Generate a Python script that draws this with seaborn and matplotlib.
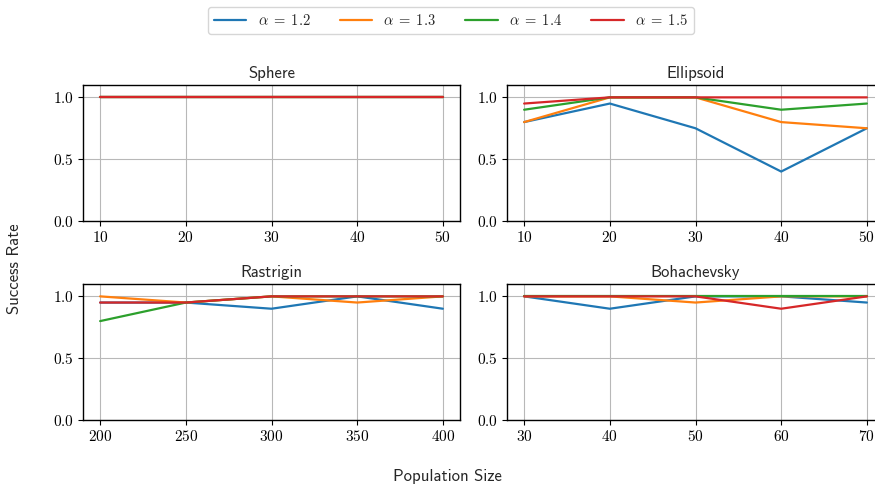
import numpy as np
import pandas as pd
import matplotlib
matplotlib.use("Agg")
import matplotlib.pyplot as plt
import seaborn as sns

# ---- data ----
alphas = ["1.2", "1.3", "1.4", "1.5"]
titles = ["Sphere", "Ellipsoid", "Rastrigin", "Bohachevsky"]

sphere_x = [10, 20, 30, 40, 50]
sphere_a12 = [1.0, 1.0, 1.0, 1.0, 1.0]
sphere_a13 = [1.0, 1.0, 1.0, 1.0, 1.0]
sphere_a14 = [1.0, 1.0, 1.0, 1.0, 1.0]
sphere_a15 = [1.0, 1.0, 1.0, 1.0, 1.0]

ellipsoid_x = [10, 20, 30, 40, 50]
ellipsoid_a12 = [0.80, 0.95, 0.75, 0.40, 0.75]
ellipsoid_a13 = [0.80, 1.00, 1.00, 0.80, 0.75]
ellipsoid_a14 = [0.90, 1.00, 1.00, 0.90, 0.95]
ellipsoid_a15 = [0.95, 1.00, 1.00, 1.00, 1.00]

rastrigin_x = [200, 250, 300, 350, 400]
rastrigin_a12 = [0.95, 0.95, 0.90, 1.00, 0.90]
rastrigin_a13 = [1.00, 0.95, 1.00, 0.95, 1.00]
rastrigin_a14 = [0.80, 0.95, 1.00, 1.00, 1.00]
rastrigin_a15 = [0.95, 0.95, 1.00, 1.00, 1.00]

bohachevsky_x = [30, 40, 50, 60, 70]
bohachevsky_a12 = [1.00, 0.90, 1.00, 1.00, 0.95]
bohachevsky_a13 = [1.00, 1.00, 0.95, 1.00, 1.00]
bohachevsky_a14 = [1.00, 1.00, 1.00, 1.00, 1.00]
bohachevsky_a15 = [1.00, 1.00, 1.00, 0.90, 1.00]

y_ticks = [0.0, 0.5, 1.0]

panels = [
    (sphere_x, [sphere_a12, sphere_a13, sphere_a14, sphere_a15]),
    (ellipsoid_x, [ellipsoid_a12, ellipsoid_a13, ellipsoid_a14, ellipsoid_a15]),
    (rastrigin_x, [rastrigin_a12, rastrigin_a13, rastrigin_a14, rastrigin_a15]),
    (bohachevsky_x, [bohachevsky_a12, bohachevsky_a13, bohachevsky_a14, bohachevsky_a15]),
]

# ---- style ----
sns.set_theme(style="ticks")
plt.rcParams["font.family"] = ["cmss10", "DejaVu Sans"]
plt.rcParams["mathtext.fontset"] = "cm"
plt.rcParams["axes.edgecolor"] = "black"
plt.rcParams["xtick.color"] = "black"
plt.rcParams["ytick.color"] = "black"
plt.rcParams["axes.unicode_minus"] = False

palette = ["#1f77b4", "#ff7f0e", "#2ca02c", "#d62728"]
labels = [r"$\alpha\;=\;%s$" % a for a in alphas]

W, H = 875, 484
fig = plt.figure(figsize=(W / 100, H / 100), dpi=100)

# axes rectangles in pixels: (left, top, width, height)
rects = [(83, 85, 377, 136), (507, 85, 377, 136),
         (83, 284, 377, 136), (507, 284, 377, 136)]

handles = None
for (xs, series), title, (l, t, w, h) in zip(panels, titles, rects):
    ax = fig.add_axes([l / W, 1 - (t + h) / H, w / W, h / H])
    rows = []
    for lab, ys in zip(labels, series):
        for x, y in zip(xs, ys):
            rows.append({"x": x, "y": y, "alpha": lab})
    df = pd.DataFrame(rows)
    sns.lineplot(data=df, x="x", y="y", hue="alpha", palette=palette,
                 hue_order=labels, ax=ax, linewidth=1.6, legend=True)
    handles, hl = ax.get_legend_handles_labels()
    ax.get_legend().remove()
    ax.set_ylim(0, 1.1)
    ax.set_xticks(xs)
    ax.set_xticklabels([r"$%d$" % v for v in xs], fontsize=11)
    ax.set_yticks(y_ticks)
    ax.set_yticklabels([r"$%.1f$" % v for v in y_ticks], fontsize=11)
    ax.grid(True, color="#b8b8b8", linewidth=0.8)
    ax.set_axisbelow(True)
    ax.set_xlabel("")
    ax.set_ylabel("")
    ax.set_title(title, fontsize=12, pad=5)
    for s in ax.spines.values():
        s.set_linewidth(1.0)
    ax.tick_params(length=3.5, width=0.8, pad=3)

fig.legend(handles, labels, loc="upper center", ncol=4,
           bbox_to_anchor=(451 / W, 1.0), fontsize=10.5,
           frameon=True, fancybox=True, edgecolor="#cccccc",
           columnspacing=2.0, handlelength=2.2)

fig.text(447 / W, 1 - 476 / H, "Population Size", ha="center", va="center", fontsize=12)
fig.text(15 / W, 1 - 269 / H, "Success Rate", ha="center", va="center",
         rotation=90, fontsize=12)

fig.savefig("out.png", dpi=100)
